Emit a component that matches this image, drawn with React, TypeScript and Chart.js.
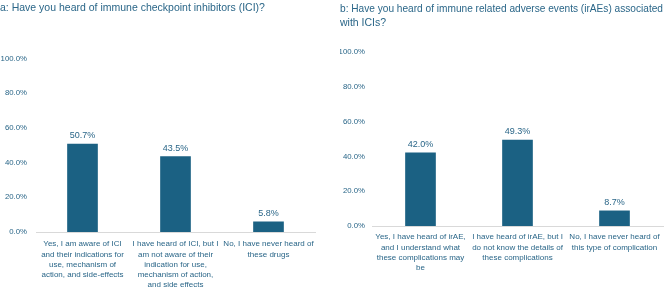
import React, { useEffect, useRef } from "react";
import { Chart, registerables } from "chart.js";

Chart.register(...registerables);

// Survey responses, percentages of respondents
const iciTitle = ["a: Have you heard of immune checkpoint inhibitors (ICI)?"];
const iciCategories = [
  ["Yes, I am aware of ICI", "and their indications for", "use, mechanism of", "action, and side-effects"],
  ["I have heard of ICI, but I", "am not aware of their", "indication for use,", "mechanism of action,", "and side effects"],
  ["No, I have never heard of", "these drugs"],
];
const iciValues = [50.7, 43.5, 5.8];

const iraeTitle = [
  "b: Have you heard of immune related adverse events (irAEs) associated",
  "with ICIs?",
];
const iraeCategories = [
  ["Yes, I have heard of irAE,", "and I understand what", "these complications may", "be"],
  ["I have heard of irAE, but I", "do not know the details of", "these complications"],
  ["No, I have never heard of", "this type of complication"],
];
const iraeValues = [42.0, 49.3, 8.7];

const yTicks = [0, 20, 40, 60, 80, 100];

const FONT = "'Liberation Sans', Arial, sans-serif";
const TEXT = "#2a6688";
const BAR = "#1b6183";
const AXIS = "#d9d9d9";

const valueLabels = {
  id: "valueLabels",
  afterDatasetsDraw(chart: any) {
    const ctx = chart.ctx;
    ctx.save();
    ctx.font = `9px ${FONT}`;
    ctx.fillStyle = TEXT;
    ctx.textAlign = "center";
    ctx.textBaseline = "bottom";
    const meta = chart.getDatasetMeta(0);
    const data = chart.data.datasets[0].data as number[];
    meta.data.forEach((bar: any, i: number) => {
      ctx.fillText(`${data[i].toFixed(1)}%`, bar.x, bar.y - 4);
    });
    ctx.restore();
  },
};

type Layout = {
  padLeft: number;
  padRight: number;
  yWidth: number;
  yPad: number;
  titleBottom: number;
  titleLineHeight: number;
  xHeight: number;
  xPad: number;
};

function makeChart(
  canvas: HTMLCanvasElement,
  title: string[],
  categories: string[][],
  values: number[],
  L: Layout
) {
  return new Chart(canvas, {
    type: "bar",
    data: {
      labels: categories,
      datasets: [
        {
          data: values,
          backgroundColor: BAR,
          barThickness: 30,
        },
      ],
    },
    plugins: [valueLabels],
    options: {
      responsive: false,
      animation: false,
      layout: { padding: { left: L.padLeft, right: L.padRight, top: 0, bottom: 0 } },
      plugins: {
        legend: { display: false },
        tooltip: { enabled: false },
        title: {
          display: true,
          text: title,
          align: "start",
          color: TEXT,
          font: { family: FONT, size: 10.5, weight: "normal", lineHeight: L.titleLineHeight },
          padding: { top: 2, bottom: L.titleBottom },
        },
      },
      scales: {
        x: {
          grid: { display: false, drawTicks: false },
          border: { display: true, color: AXIS, width: 1 },
          ticks: {
            color: TEXT,
            font: { family: FONT, size: 8, lineHeight: 1.28 },
            padding: L.xPad,
            maxRotation: 0,
            autoSkip: false,
          },
          afterFit: (s: any) => {
            s.height = L.xHeight;
          },
        },
        y: {
          min: 0,
          max: 100,
          afterBuildTicks: (s: any) => {
            s.ticks = yTicks.map((v) => ({ value: v }));
          },
          grid: { display: false, drawTicks: false },
          border: { display: false },
          ticks: {
            color: TEXT,
            font: { family: FONT, size: 7.8 },
            padding: L.yPad,
            callback: (v: any) => `${Number(v).toFixed(1)}%`,
          },
          afterFit: (s: any) => {
            s.width = L.yWidth;
          },
        },
      },
    },
  });
}

export default function App() {
  const leftRef = useRef<HTMLCanvasElement>(null);
  const rightRef = useRef<HTMLCanvasElement>(null);

  useEffect(() => {
    const a = makeChart(leftRef.current!, iciTitle, iciCategories, iciValues, {
      padLeft: 0,
      padRight: 20,
      yWidth: 36,
      yPad: 9,
      titleBottom: 44,
      titleLineHeight: 1.2,
      xHeight: 56,
      xPad: 7,
    });
    const b = makeChart(rightRef.current!, iraeTitle, iraeCategories, iraeValues, {
      padLeft: 5,
      padRight: 6,
      yWidth: 32,
      yPad: 7,
      titleBottom: 22,
      titleLineHeight: 1.33,
      xHeight: 62,
      xPad: 6,
    });
    return () => {
      a.destroy();
      b.destroy();
    };
  }, []);

  return (
    <div
      style={{
        position: "absolute",
        left: 0,
        top: 0,
        width: 669,
        height: 288,
        background: "#ffffff",
        overflow: "hidden",
      }}
    >
      <canvas ref={leftRef} width={335} height={288} style={{ position: "absolute", left: 0, top: 0 }} />
      <canvas ref={rightRef} width={334} height={288} style={{ position: "absolute", left: 335, top: 0 }} />
    </div>
  );
}
